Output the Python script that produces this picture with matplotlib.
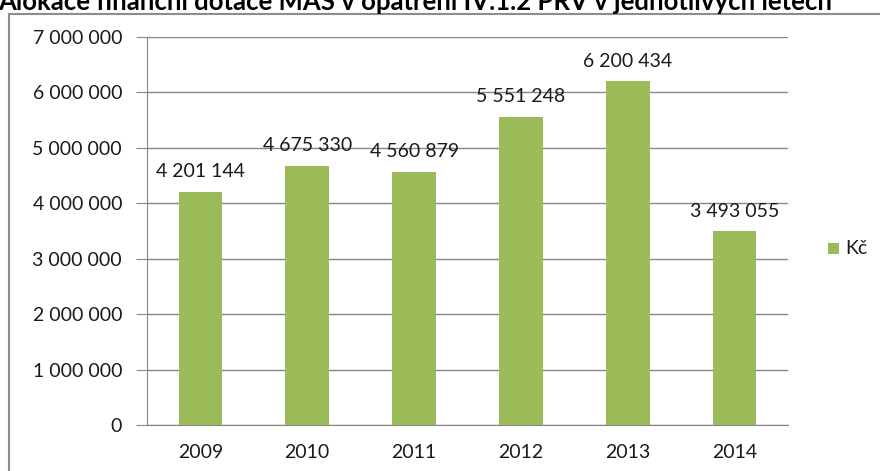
import matplotlib
matplotlib.use("Agg")
import matplotlib.pyplot as plt
from matplotlib.patches import Rectangle
from matplotlib.ticker import FuncFormatter

years = ["2009", "2010", "2011", "2012", "2013", "2014"]
values = [4201144, 4675330, 4560879, 5551248, 6200434, 3493055]
series_name = "Kč"
title = "Alokace finanční dotace MAS v opatření IV.1.2 PRV v jednotlivých letech"

plt.rcParams['font.family'] = ['Lato', 'DejaVu Sans']

W, H = 880, 471
fig = plt.figure(figsize=(W / 100, H / 100), dpi=100)

def fx(px):
    return px / W

def fy(py):
    return 1 - py / H

# outer frame (cut by the image edge on the right/bottom)
fig.patches.append(Rectangle((fx(9), fy(480)), 2, fy(14) - fy(480),
                             transform=fig.transFigure, fill=False,
                             edgecolor="#8c8c8c", linewidth=1.5))

# title (partly cut off, as in the reference)
fig.text(fx(832), fy(10), title, ha="right", va="baseline",
         fontsize=18.5, fontweight="bold", color="black")

ax = fig.add_axes([fx(147), fy(425), fx(788) - fx(147), fy(37) - fy(425)])
x = list(range(len(years)))
ax.bar(x, values, width=0.41, color="#9BBB59", zorder=3)
ax.set_xlim(-0.5, len(years) - 0.5)
ax.set_ylim(0, 7000000)
ax.set_yticks(range(0, 7000001, 1000000))
fmt = lambda v: f"{int(v):,}".replace(",", " ")
ax.yaxis.set_major_formatter(FuncFormatter(lambda v, p: fmt(v)))
ax.set_xticks(x)
ax.set_xticklabels(years)
ax.grid(axis="y", color="#868686", linewidth=1, zorder=0)
for s in ["top", "right"]:
    ax.spines[s].set_visible(False)
for s in ["left", "bottom"]:
    ax.spines[s].set_color("#868686")
ax.tick_params(axis="y", length=8, color="#868686", labelsize=14,
               labelcolor="#1a1a1a", pad=10)
ax.tick_params(axis="x", length=0, labelsize=14, labelcolor="#1a1a1a", pad=14)

for xi, v in zip(x, values):
    ax.annotate(fmt(v), (xi, v), xytext=(0, 8.5), textcoords="offset points",
                ha="center", va="bottom", fontsize=14, color="#1a1a1a")

# legend
fig.patches.append(Rectangle((fx(828), fy(254)), fx(11), fy(243) - fy(254),
                             transform=fig.transFigure, facecolor="#9BBB59",
                             edgecolor="none"))
fig.text(fx(845), fy(248.5), series_name, ha="left", va="center",
         fontsize=14, color="#1a1a1a")

fig.savefig("out.png", dpi=100)
